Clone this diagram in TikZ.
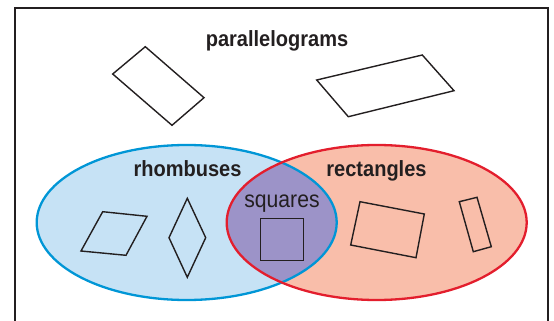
\documentclass[tikz,border=0pt]{standalone}
\usepackage{fontspec}
\newfontfamily\labfont[FakeStretch=0.91]{Liberation Sans}
\newfontfamily\sqfont[FakeStretch=0.9]{Liberation Sans}
\definecolor{txt}{HTML}{231F20}
\definecolor{bline}{HTML}{0096D6}
\definecolor{bfill}{HTML}{C6E2F5}
\definecolor{rline}{HTML}{E31E2D}
\definecolor{rfill}{HTML}{F9BEAA}
\definecolor{pfill}{HTML}{9C93C8}
\begin{document}
\begin{tikzpicture}[x=1pt,y=-1pt,
  quad/.style={draw=txt,line width=1.4pt,line join=miter},
  setline/.style={line width=2.3pt},
  title/.style={anchor=base,inner sep=0pt,text=txt,font=\labfont\bfseries\fontsize{22}{22}\selectfont},
  sqlabel/.style={anchor=base,inner sep=0pt,text=txt,font=\sqfont\fontsize{23.5}{23.5}\selectfont}]
\useasboundingbox (0,0) rectangle (554,321);
% frame
\draw[txt,line width=2pt] (15,321) -- (15,8) -- (547.7,8) -- (547.7,321);
% set fills
\fill[bfill] (186.7,222.5) ellipse [x radius=150, y radius=77.5];
\fill[rfill] (376.7,222.5) ellipse [x radius=150, y radius=77.5];
\begin{scope}
  \clip (186.7,222.5) ellipse [x radius=150, y radius=77.5];
  \fill[pfill] (376.7,222.5) ellipse [x radius=150, y radius=77.5];
\end{scope}
\draw[setline,bline] (186.7,222.5) ellipse [x radius=150, y radius=77.5];
\draw[setline,rline] (376.7,222.5) ellipse [x radius=150, y radius=77.5];
% labels
\node[title] (lpar) at (277,46.5) {parallelograms};
\node[title] (lrho) at (187.5,176.7) {rhombuses};
\node[title] (lrec) at (376.5,176.7) {rectangles};
\node[sqlabel] (lsq) at (282,207.5) {squares};
% parallelograms
\draw[quad] (145.3,46.7) -- (204,97.7) -- (172,125.3) -- (112.7,74) -- cycle;
\draw[quad] (316.7,80) -- (422.3,55) -- (454,90.7) -- (348.3,116.7) -- cycle;
% rhombuses
\draw[quad] (102.7,211.7) -- (147,216.3) -- (126,255.3) -- (81,251) -- cycle;
\draw[quad] (187.3,198.3) -- (205.7,237.7) -- (187.3,277.3) -- (169,237.7) -- cycle;
% square
\draw[quad] (260.7,218.7) rectangle (303.3,260.7);
% rectangles
\draw[quad] (360,201.7) -- (424.3,214) -- (416,257.7) -- (350.7,245) -- cycle;
\draw[quad] (459.3,201.7) -- (477,197.3) -- (491.3,246.7) -- (473.3,251.7) -- cycle;
\end{tikzpicture}
\end{document}
